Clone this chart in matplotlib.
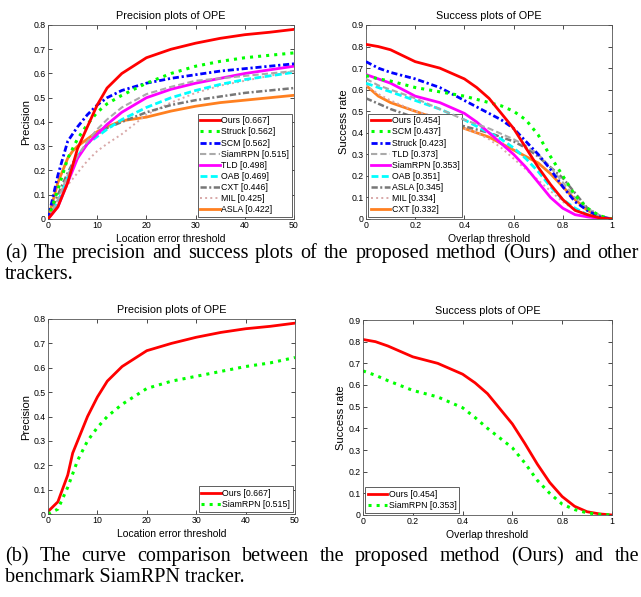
import numpy as np
import matplotlib.pyplot as plt

# ---------------- data ----------------
prec_x = [0, 2, 4, 5, 6, 8, 10, 12, 15, 20, 25, 30, 35, 40, 45, 50]
prec_names = ['Ours [0.667]', 'Struck [0.562]', 'SCM [0.562]', 'SiamRPN [0.515]', 'TLD [0.498]',
              'OAB [0.469]', 'CXT [0.446]', 'MIL [0.425]', 'ASLA [0.422]']
prec_ours = [0.0, 0.05, 0.15, 0.22, 0.29, 0.38, 0.47, 0.54, 0.60, 0.665, 0.70, 0.725, 0.745, 0.76, 0.77, 0.782]
prec_struck = [0.0, 0.12, 0.25, 0.29, 0.33, 0.39, 0.44, 0.475, 0.51, 0.56, 0.60, 0.63, 0.65, 0.665, 0.675, 0.685]
prec_scm = [0.0, 0.18, 0.32, 0.35, 0.38, 0.43, 0.47, 0.50, 0.53, 0.56, 0.58, 0.595, 0.61, 0.62, 0.63, 0.64]
prec_siamrpn = [0.0, 0.08, 0.18, 0.22, 0.26, 0.32, 0.37, 0.41, 0.46, 0.515, 0.545, 0.57, 0.58, 0.59, 0.60, 0.61]
prec_tld = [0.0, 0.05, 0.15, 0.20, 0.25, 0.31, 0.35, 0.39, 0.44, 0.50, 0.535, 0.56, 0.58, 0.60, 0.615, 0.63]
prec_oab = [0.0, 0.07, 0.17, 0.22, 0.26, 0.31, 0.34, 0.37, 0.41, 0.46, 0.50, 0.53, 0.555, 0.575, 0.59, 0.605]
prec_cxt = [0.0, 0.10, 0.19, 0.23, 0.26, 0.31, 0.35, 0.375, 0.40, 0.44, 0.47, 0.49, 0.505, 0.52, 0.53, 0.54]
prec_mil = [0.0, 0.07, 0.14, 0.165, 0.19, 0.24, 0.28, 0.31, 0.35, 0.43, 0.48, 0.52, 0.55, 0.57, 0.59, 0.61]
prec_asla = [0.0, 0.15, 0.25, 0.28, 0.30, 0.33, 0.36, 0.38, 0.405, 0.42, 0.445, 0.465, 0.48, 0.49, 0.50, 0.51]

succ_x = [0, 0.05, 0.1, 0.2, 0.3, 0.4, 0.45, 0.5, 0.55, 0.6, 0.65, 0.7, 0.75, 0.8, 0.85, 0.9, 0.95, 1.0]
succ_names = ['Ours [0.454]', 'SCM [0.437]', 'Struck [0.423]', 'TLD [0.373]', 'SiamRPN [0.353]',
              'OAB [0.351]', 'ASLA [0.345]', 'MIL [0.334]', 'CXT [0.332]']
succ_ours = [0.81, 0.80, 0.785, 0.73, 0.70, 0.65, 0.61, 0.56, 0.49, 0.42, 0.33, 0.24, 0.16, 0.09, 0.04, 0.02, 0.005, 0.0]
succ_scm = [0.665, 0.65, 0.64, 0.61, 0.59, 0.57, 0.555, 0.54, 0.525, 0.50, 0.46, 0.39, 0.29, 0.20, 0.11, 0.05, 0.015, 0.0]
succ_struck = [0.73, 0.70, 0.68, 0.65, 0.61, 0.55, 0.52, 0.49, 0.46, 0.42, 0.36, 0.30, 0.23, 0.15, 0.08, 0.04, 0.01, 0.0]
succ_tld = [0.65, 0.62, 0.60, 0.56, 0.51, 0.46, 0.44, 0.42, 0.395, 0.37, 0.34, 0.30, 0.24, 0.17, 0.10, 0.05, 0.015, 0.0]
succ_siamrpn = [0.67, 0.65, 0.63, 0.57, 0.54, 0.49, 0.45, 0.40, 0.35, 0.30, 0.24, 0.17, 0.10, 0.05, 0.02, 0.01, 0.003, 0.0]
succ_oab = [0.63, 0.61, 0.59, 0.55, 0.51, 0.46, 0.43, 0.40, 0.37, 0.33, 0.28, 0.22, 0.15, 0.09, 0.05, 0.02, 0.008, 0.0]
succ_asla = [0.56, 0.535, 0.51, 0.47, 0.46, 0.43, 0.415, 0.40, 0.38, 0.36, 0.33, 0.29, 0.24, 0.19, 0.12, 0.05, 0.015, 0.0]
succ_mil = [0.62, 0.58, 0.55, 0.50, 0.47, 0.42, 0.40, 0.37, 0.33, 0.28, 0.23, 0.18, 0.13, 0.08, 0.04, 0.02, 0.005, 0.0]
succ_cxt = [0.62, 0.57, 0.54, 0.50, 0.46, 0.42, 0.40, 0.38, 0.35, 0.32, 0.29, 0.26, 0.21, 0.15, 0.09, 0.04, 0.01, 0.0]

# (b) Ours vs SiamRPN only
cmp_prec_ours = [0.01, 0.05, 0.16, 0.25, 0.30, 0.40, 0.48, 0.545, 0.605, 0.67, 0.70, 0.725, 0.745, 0.76, 0.77, 0.783]
cmp_prec_siam = [0.0, 0.02, 0.11, 0.165, 0.22, 0.30, 0.355, 0.40, 0.45, 0.515, 0.545, 0.565, 0.585, 0.605, 0.62, 0.642]
cmp_succ_ours = [0.81, 0.80, 0.78, 0.73, 0.70, 0.65, 0.61, 0.56, 0.49, 0.42, 0.33, 0.235, 0.15, 0.085, 0.04, 0.015, 0.005, 0.0]
cmp_succ_siam = [0.665, 0.645, 0.62, 0.575, 0.545, 0.495, 0.45, 0.40, 0.355, 0.31, 0.24, 0.16, 0.10, 0.05, 0.025, 0.01, 0.003, 0.0]

# styles by rank (MATLAB OTB toolkit look)
styles = [
    dict(color='#ff0000', ls='-', lw=2.0),
    dict(color='#00ff00', ls=':', lw=2.2),
    dict(color='#0000ff', ls=(0, (2.2, 1.0, 0.8, 1.0)), lw=2.0),
    dict(color='#aaaaaa', ls=(0, (3, 1.5)), lw=1.5),
    dict(color='#ff00ff', ls='-', lw=2.0),
    dict(color='#00ffff', ls=(0, (2.5, 1.2)), lw=2.0),
    dict(color='#777777', ls=(0, (2.5, 1.0, 0.8, 1.0)), lw=1.8),
    dict(color='#d8a8a8', ls=':', lw=1.4),
    dict(color='#ff8020', ls='-', lw=2.0),
]

plt.rcParams['font.family'] = 'Liberation Sans'

fig = plt.figure(figsize=(6.41, 5.97), dpi=100)
W, H = 641, 597


def make_ax(x0, x1, y_top, y_bot):
    return fig.add_axes([x0 / W, 1 - y_bot / H, (x1 - x0) / W, (y_bot - y_top) / H])


def style_ax(ax, kind):
    if kind == 'prec':
        ax.set_xlim(0, 50)
        ax.set_ylim(0, 0.8)
        ax.set_xticks([0, 10, 20, 30, 40, 50])
        ax.set_yticks(np.arange(0, 0.81, 0.1))
        ax.set_yticklabels(['0', '0.1', '0.2', '0.3', '0.4', '0.5', '0.6', '0.7', '0.8'])
        ax.set_title('Precision plots of OPE', fontsize=7.8, pad=4)
        ax.set_xlabel('Location error threshold', fontsize=7.5, labelpad=2.5)
        ax.set_ylabel('Precision', fontsize=8, labelpad=2)
    else:
        ax.set_xlim(0, 1)
        ax.set_ylim(0, 0.9)
        ax.set_xticks([0, 0.2, 0.4, 0.6, 0.8, 1])
        ax.set_xticklabels(['0', '0.2', '0.4', '0.6', '0.8', '1'])
        ax.set_yticks(np.arange(0, 0.91, 0.1))
        ax.set_yticklabels(['0', '0.1', '0.2', '0.3', '0.4', '0.5', '0.6', '0.7', '0.8', '0.9'])
        ax.set_title('Success plots of OPE', fontsize=7.8, pad=4)
        ax.set_xlabel('Overlap threshold', fontsize=7.5, labelpad=2.5)
        ax.set_ylabel('Success rate', fontsize=8, labelpad=2)
    ax.tick_params(direction='in', top=True, right=True, labelsize=6.3, length=3, width=0.5, pad=1.5)
    for s in ax.spines.values():
        s.set_linewidth(0.6)
        s.set_color('#555555')


def legend(ax, handles, labels, loc):
    leg = ax.legend(handles, labels, loc=loc, fontsize=6.3, handlelength=2.2, handletextpad=0.2,
                    labelspacing=0.24, borderpad=0.3, borderaxespad=0.25, fancybox=False, framealpha=1)
    leg.get_frame().set_edgecolor('#444444')
    leg.get_frame().set_linewidth(0.6)


# (a) left
ax1 = make_ax(48, 294, 25, 219)
prec_all = [prec_ours, prec_struck, prec_scm, prec_siamrpn, prec_tld, prec_oab, prec_cxt, prec_mil, prec_asla]
for i in range(len(prec_all) - 1, -1, -1):
    ax1.plot(prec_x, prec_all[i], label=prec_names[i], zorder=10 - i, **styles[i])
style_ax(ax1, 'prec')
h, l = ax1.get_legend_handles_labels()
legend(ax1, h[::-1], l[::-1], 'lower right')

# (a) right
ax2 = make_ax(366, 612, 25, 219)
succ_all = [succ_ours, succ_scm, succ_struck, succ_tld, succ_siamrpn, succ_oab, succ_asla, succ_mil, succ_cxt]
for i in range(len(succ_all) - 1, -1, -1):
    ax2.plot(succ_x, succ_all[i], label=succ_names[i], zorder=10 - i, **styles[i])
style_ax(ax2, 'succ')
h, l = ax2.get_legend_handles_labels()
legend(ax2, h[::-1], l[::-1], 'lower left')

# (b) left
ax3 = make_ax(48, 295, 319, 514)
ax3.plot(prec_x, cmp_prec_ours, label='Ours [0.667]', **styles[0])
ax3.plot(prec_x, cmp_prec_siam, label='SiamRPN [0.515]', **styles[1])
style_ax(ax3, 'prec')
h, l = ax3.get_legend_handles_labels()
legend(ax3, h, l, 'lower right')

# (b) right
ax4 = make_ax(363, 612, 320, 515)
ax4.plot(succ_x, cmp_succ_ours, label='Ours [0.454]', **styles[0])
ax4.plot(succ_x, cmp_succ_siam, label='SiamRPN [0.353]', **styles[1])
style_ax(ax4, 'succ')
h, l = ax4.get_legend_handles_labels()
legend(ax4, h, l, 'lower left')

# captions (serif, justified like the paper)
cap_font = dict(family='Liberation Serif', fontsize=14.5)
renderer = fig.canvas.get_renderer()


def justified(text, y, x0=5, x1=639):
    words = text.split(' ')
    objs = [fig.text(0, 1 - y / H, w, ha='left', va='baseline', **cap_font) for w in words]
    widths = [o.get_window_extent(renderer).width for o in objs]
    gap = (x1 - x0 - sum(widths)) / (len(words) - 1)
    x = x0
    for o, w in zip(objs, widths):
        o.set_x(x / W)
        x += w + gap


justified('(a) The precision and success plots of the proposed method (Ours) and other', 258)
fig.text(5 / W, 1 - 279 / H, 'trackers.', ha='left', va='baseline', **cap_font)
justified('(b) The curve comparison between the proposed method (Ours) and the', 561)
fig.text(5 / W, 1 - 582 / H, 'benchmark SiamRPN tracker.', ha='left', va='baseline', **cap_font)

fig.savefig('out.png', dpi=100)
